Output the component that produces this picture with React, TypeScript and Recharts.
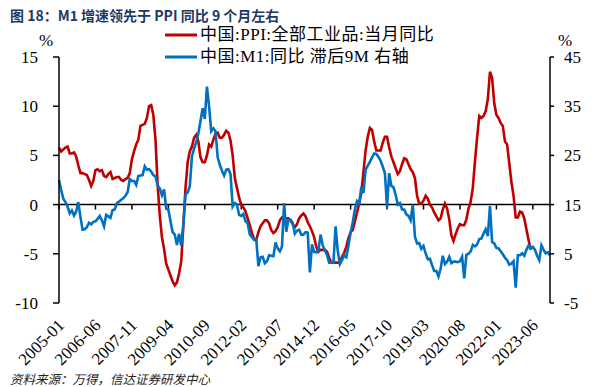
import { LineChart, Line, XAxis, YAxis, ReferenceLine } from 'recharts';

const SERIF = "'Liberation Serif', 'Noto Sans CJK SC', serif";

// 月份：2005-01 起，共 230 个月
const START_YEAR = 2005;
const MONTH_COUNT = 230;
const MONTHS: string[] = Array.from({ length: MONTH_COUNT }, (_, i) => {
  const y = START_YEAR + Math.floor(i / 12);
  const m = (i % 12) + 1;
  return `${y}-${m < 10 ? '0' + m : m}`;
});

const TICK_LABELS = [
  '2005-01', '2006-06', '2007-11', '2009-04', '2010-09', '2012-02', '2013-07',
  '2014-12', '2016-05', '2017-10', '2019-03', '2020-08', '2022-01', '2023-06',
];

// 中国:PPI:全部工业品:当月同比 (2005-01 ~ 2023-05)
const PPI = [
  5.8, 5.4, 5.6, 5.8, 5.9, 5.2, 5.2, 5.3, 4.9, 4.0, 3.2, 3.2,
  3.1, 3.0, 2.5, 1.9, 2.4, 3.5, 3.6, 3.4, 3.5, 2.9, 2.8, 3.1,
  3.3, 2.6, 2.7, 2.8, 2.8, 2.5, 2.4, 2.6, 2.7, 3.2, 4.6, 5.4,
  6.1, 6.6, 8.0, 8.1, 8.2, 8.8, 10.0, 10.1, 9.1, 6.6, 2.0, -1.1,
  -3.3, -4.5, -6.0, -6.6, -7.2, -7.8, -8.2, -7.9, -7.0, -5.8, -2.1, 1.7,
  4.3, 5.4, 5.9, 6.8, 7.1, 6.4, 4.8, 4.3, 4.3, 5.0, 6.1, 5.9,
  6.6, 7.2, 7.3, 6.8, 6.8, 7.1, 7.5, 7.3, 6.5, 5.0, 2.7, 1.7,
  0.7, 0.0, -0.3, -0.7, -1.4, -2.1, -2.9, -3.5, -3.6, -2.8, -2.2, -1.9,
  -1.6, -1.6, -1.9, -2.6, -2.9, -2.7, -2.3, -1.6, -1.3, -1.5, -1.4, -1.4,
  -1.6, -2.0, -2.3, -2.0, -1.4, -1.1, -0.9, -1.2, -1.8, -2.2, -2.7, -3.3,
  -4.3, -4.8, -4.6, -4.6, -4.6, -4.8, -5.4, -5.9, -5.9, -5.9, -5.9, -5.9,
  -5.3, -4.9, -4.3, -3.4, -2.8, -2.6, -1.7, -0.8, 0.1, 1.2, 3.3, 5.5,
  6.9, 7.8, 7.6, 6.4, 5.5, 5.5, 5.5, 6.3, 6.9, 6.9, 5.8, 4.9,
  4.3, 3.7, 3.1, 3.4, 4.1, 4.7, 4.6, 4.1, 3.6, 3.3, 2.7, 0.9,
  0.1, 0.1, 0.4, 0.9, 0.6, 0.0, -0.3, -0.8, -1.2, -1.6, -1.4, -0.5,
  0.1, -0.4, -1.5, -3.1, -3.7, -3.0, -2.4, -2.0, -2.1, -2.1, -1.5, -0.4,
  0.3, 1.7, 4.4, 6.8, 9.0, 8.8, 9.0, 9.5, 10.7, 13.5, 12.9, 10.3,
  9.1, 8.8, 8.3, 8.0, 6.4, 6.1, 4.2, 2.3, 0.9, -1.3, -1.3, -0.7,
  -0.8, -1.4, -2.5, -3.6, -4.6,
];

// 中国:M1:同比，滞后 9 个月 (原始 2004-04 ~ 2023-05)
const M1_LAG9 = [
  20.0, 18.0, 16.2, 15.5, 14.6, 13.2, 13.8, 12.8, 13.6,
  15.5, 12.5, 9.9, 10.0, 10.4, 11.3, 11.0, 11.5, 11.6, 12.1, 12.7, 11.8,
  10.6, 12.9, 12.6, 12.3, 13.9, 14.0, 15.3, 15.6, 16.0, 16.3, 16.8, 17.5,
  20.2, 19.8, 19.8, 19.0, 20.8, 20.9, 21.0, 22.8, 22.1, 22.2, 21.7, 21.0,
  20.7, 18.9, 18.3, 16.9, 18.1, 14.2, 14.0, 11.6, 9.4, 8.9, 6.8, 9.1,
  6.7, 10.9, 17.0, 17.5, 18.7, 24.8, 26.4, 27.7, 29.5, 32.0, 34.6, 32.4,
  39.0, 34.9, 29.9, 30.5, 29.9, 24.6, 23.1, 21.9, 20.9, 22.1, 22.2, 21.2,
  14.6, 15.3, 15.0, 12.9, 12.7, 13.1, 11.6, 11.2, 8.9, 8.4, 7.8, 7.9,
  2.5, 4.3, 4.4, 3.1, 3.5, 4.7, 4.6, 4.5, 7.3, 6.1, 5.5, 6.5,
  15.3, 9.5, 11.9, 11.9, 11.3, 9.1, 9.7, 9.9, 8.9, 8.9, 9.4, 9.3,
  1.2, 6.9, 5.4, 5.3, 5.7, 8.9, 6.7, 5.7, 4.8, 3.2, 3.2, 3.2,
  10.6, 5.6, 2.9, 3.7, 4.7, 4.3, 6.6, 9.3, 11.4, 14.0, 15.7, 15.2,
  18.6, 17.4, 22.1, 22.9, 23.7, 24.6, 25.4, 25.3, 24.7, 23.9, 22.7, 21.4,
  14.5, 21.4, 18.8, 18.5, 17.0, 15.0, 15.3, 14.0, 14.0, 13.0, 12.7, 11.8,
  15.0, 8.5, 7.1, 7.2, 6.0, 6.6, 5.1, 3.9, 4.0, 2.7, 1.5, 1.5,
  0.4, 2.0, 4.6, 2.9, 3.4, 4.4, 3.1, 3.4, 3.4, 3.3, 3.5, 4.4,
  0.0, 4.8, 5.0, 5.5, 6.8, 6.5, 6.9, 8.0, 8.1, 9.1, 10.0, 8.6,
  14.7, 7.4, 7.1, 6.2, 6.1, 5.5, 4.9, 4.2, 3.7, 2.8, 3.0, 3.5,
  -1.9, 4.7, 4.7, 5.1, 4.6, 5.8, 6.7, 6.1, 6.4, 5.8, 4.6, 3.7,
  6.7, 5.8, 5.1, 5.3, 4.7,
];

const LEFT_TICKS = [-10, -5, 0, 5, 10, 15];
const RIGHT_TICKS = [-5, 0, 5, 10, 15, 20, 25, 30, 35, 40, 45];

const SERIES = [
  { key: 'ppi', name: '中国:PPI:全部工业品:当月同比', color: '#C00000', axis: 'left' },
  { key: 'm1', name: '中国:M1:同比 滞后9M 右轴', color: '#0070C0', axis: 'right' },
];

const data = MONTHS.map((month, i) => ({
  month,
  ppi: i < PPI.length ? PPI[i] : null,
  m1: M1_LAG9[i] ?? null,
}));

const XTick = ({ x, y, payload }: any) => (
  <g transform={`translate(${x + 2},${y + 19})`}>
    <text
      x={0}
      y={0}
      dy="0.35em"
      textAnchor="end"
      transform="rotate(-45)"
      fontSize={17}
      fontFamily={SERIF}
      fill="#000"
    >
      {payload.value}
    </text>
  </g>
);

export default function App() {
  const axisTick = { fontSize: 17, fontFamily: SERIF, fill: '#000' };
  return (
    <div style={{ position: 'absolute', left: 0, top: 0, width: 601, height: 387, background: '#fff' }}>
      <div
        style={{
          position: 'absolute', left: 10, top: 5, fontSize: 14, fontWeight: 700,
          color: '#203864', fontFamily: "'Noto Sans CJK SC', sans-serif", whiteSpace: 'nowrap',
        }}
      >
        图 18：M1 增速领先于 PPI 同比 9 个月左右
      </div>
      <div style={{ position: 'absolute', left: 39, top: 31, fontSize: 17, fontFamily: SERIF }}>%</div>
      <div style={{ position: 'absolute', left: 558, top: 31, fontSize: 17, fontFamily: SERIF }}>%</div>
      <div
        style={{
          position: 'absolute', left: 165, top: 24, fontFamily: SERIF, fontSize: 17,
          letterSpacing: 0.5, color: '#000', lineHeight: '22px', whiteSpace: 'nowrap',
        }}
      >
        {SERIES.map((s) => (
          <div key={s.key} style={{ display: 'flex', alignItems: 'center', height: 22 }}>
            <svg width={35} height={4} style={{ marginRight: 0 }}>
              <line x1={0} y1={2} x2={32} y2={2} stroke={s.color} strokeWidth={3} />
            </svg>
            <span>{s.name}</span>
          </div>
        ))}
      </div>
      <LineChart width={601} height={387} data={data} margin={{ top: 57, right: 0, bottom: 0, left: 0 }}>
        <XAxis
          dataKey="month"
          ticks={TICK_LABELS}
          interval={0}
          height={84}
          axisLine={false}
          tickLine={false}
          tickSize={0}
          tickMargin={0}
          tick={<XTick />}
        />
        <YAxis
          yAxisId="left"
          domain={[-10, 15]}
          ticks={LEFT_TICKS}
          width={59}
          axisLine={{ stroke: '#000', strokeWidth: 1.5 }}
          tickLine={{ stroke: '#000', strokeWidth: 1.5 }}
          tickSize={6}
          tickMargin={15}
          tick={axisTick}
        />
        <YAxis
          yAxisId="right"
          orientation="right"
          domain={[-5, 45]}
          ticks={RIGHT_TICKS}
          width={51}
          axisLine={{ stroke: '#000', strokeWidth: 1.5 }}
          tickLine={{ stroke: '#000', strokeWidth: 1.5 }}
          tickSize={4}
          tickMargin={10}
          tick={axisTick}
        />
        <ReferenceLine yAxisId="left" y={0} stroke="#000" strokeWidth={1.5} />
        {TICK_LABELS.map((t) => (
          <ReferenceLine
            key={t}
            yAxisId="left"
            segment={[{ x: t, y: 0 }, { x: t, y: -0.5 }]}
            stroke="#000"
            strokeWidth={1.5}
          />
        ))}
        {SERIES.map((s) => (
          <Line
            key={s.key}
            yAxisId={s.axis}
            type="linear"
            dataKey={s.key}
            name={s.name}
            stroke={s.color}
            strokeWidth={2.6}
            dot={false}
            isAnimationActive={false}
          />
        ))}
      </LineChart>
      <div
        style={{
          position: 'absolute', left: 10, top: 369, fontSize: 12.5, fontStyle: 'italic',
          fontFamily: "'Noto Sans CJK SC', sans-serif", color: '#222', whiteSpace: 'nowrap',
        }}
      >
        资料来源：万得，信达证券研发中心
      </div>
    </div>
  );
}
